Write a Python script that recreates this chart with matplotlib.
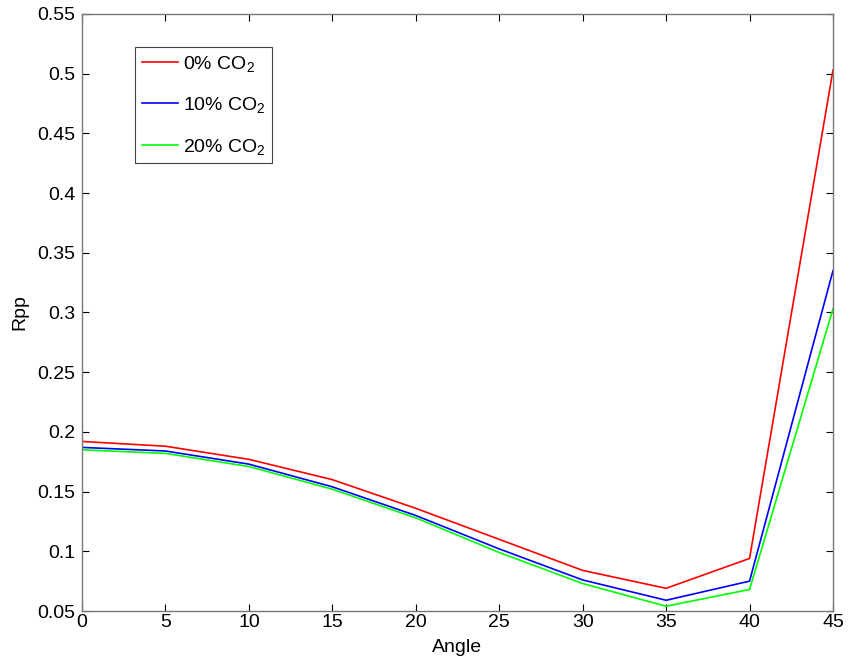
import matplotlib
matplotlib.use('Agg')
import matplotlib.pyplot as plt

plt.rcParams['font.family'] = ['Liberation Sans', 'DejaVu Sans']

angle = [0, 5, 10, 15, 20, 25, 30, 35, 40, 45]
rpp_0 = [0.192, 0.188, 0.177, 0.160, 0.136, 0.110, 0.084, 0.069, 0.094, 0.503]
rpp_10 = [0.187, 0.184, 0.173, 0.154, 0.130, 0.102, 0.076, 0.059, 0.075, 0.335]
rpp_20 = [0.185, 0.182, 0.171, 0.152, 0.128, 0.099, 0.073, 0.054, 0.068, 0.303]

labels = ['0% CO$\\mathregular{_2}$', '10% CO$\\mathregular{_2}$', '20% CO$\\mathregular{_2}$']

fig = plt.figure(figsize=(8.48, 6.65), dpi=100)
ax = fig.add_axes([0.0967, 0.0812, 0.8856, 0.8978])

ax.plot(angle, rpp_0, color='#ff0000', lw=1.2, label=labels[0])
ax.plot(angle, rpp_10, color='#0000ff', lw=1.2, label=labels[1])
ax.plot(angle, rpp_20, color='#00ff00', lw=1.2, label=labels[2])

ax.set_xlim(0, 45)
ax.set_ylim(0.05, 0.55)
ax.set_xticks(range(0, 46, 5))
ax.set_yticks([0.05, 0.1, 0.15, 0.2, 0.25, 0.3, 0.35, 0.4, 0.45, 0.5, 0.55])
ax.set_yticklabels(['0.05', '0.1', '0.15', '0.2', '0.25', '0.3', '0.35', '0.4', '0.45', '0.5', '0.55'])
ax.tick_params(direction='in', top=True, right=True, length=5, width=0.8,
               labelsize=14, colors='black')
ax.tick_params(axis='y', pad=5)
ax.tick_params(axis='x', pad=2)
for s in ax.spines.values():
    s.set_color('#777777')
    s.set_linewidth(1.0)

ax.set_xlabel('Angle', fontsize=14, labelpad=6)
ax.set_ylabel('Rpp', fontsize=14, labelpad=6)

leg = ax.legend(loc='upper left', bbox_to_anchor=(0.0706, 0.9447), borderaxespad=0,
                fontsize=14, fancybox=False, framealpha=1, handlelength=1.85,
                handletextpad=0.25, labelspacing=1.1, borderpad=0.35)
leg.get_frame().set_edgecolor('#444444')
leg.get_frame().set_linewidth(0.8)

fig.savefig('out.png', dpi=100)
